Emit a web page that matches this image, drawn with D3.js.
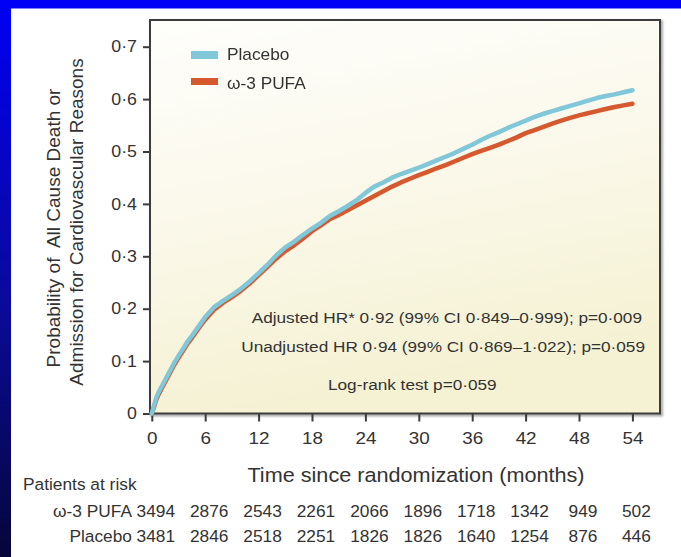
<!DOCTYPE html>
<html>
<head>
<meta charset="utf-8">
<script src="https://cdn.jsdelivr.net/npm/d3@7"></script>
<style>
  html, body { margin: 0; padding: 0; background: #fff; }
  svg { display: block; }
  text { font-family: "Liberation Sans", Arial, Helvetica, sans-serif; fill: #333; }
</style>
</head>
<body>
<svg id="chart" width="681" height="557"></svg>
<script>
// Kaplan–Meier cumulative event probability by month since randomization
const months = [0, 0.25, 0.5, 0.75, 1, 1.5, 2, 2.5, 3, 3.5, 4, 4.5, 5, 5.5, 6,
  7, 8, 9, 10, 11, 12, 13, 14, 15, 16, 17, 18, 19, 20, 21, 22, 23, 24,
  25, 26, 27, 28, 29, 30, 31, 32, 33, 34, 35, 36, 37, 38, 39, 40, 41, 42,
  43, 44, 45, 46, 47, 48, 49, 50, 51, 52, 53, 54];

const placebo = [0, 0.015, 0.030, 0.040, 0.048, 0.064, 0.080, 0.096, 0.110, 0.123, 0.137, 0.148, 0.160, 0.172, 0.184,
  0.203, 0.215, 0.226, 0.238, 0.252, 0.268, 0.284, 0.302, 0.317, 0.328, 0.341, 0.353, 0.364, 0.377, 0.386, 0.396, 0.407, 0.421,
  0.433, 0.441, 0.450, 0.457, 0.463, 0.469, 0.476, 0.483, 0.490, 0.497, 0.505, 0.513, 0.522, 0.530, 0.537, 0.545, 0.552, 0.559,
  0.566, 0.572, 0.577, 0.582, 0.587, 0.592, 0.597, 0.602, 0.606, 0.609, 0.613, 0.617];

const pufa = [0, 0.012, 0.026, 0.036, 0.044, 0.060, 0.076, 0.092, 0.106, 0.119, 0.133, 0.144, 0.156, 0.168, 0.179,
  0.198, 0.211, 0.222, 0.234, 0.248, 0.264, 0.280, 0.296, 0.310, 0.321, 0.334, 0.348, 0.359, 0.371, 0.379, 0.388, 0.397, 0.406,
  0.415, 0.424, 0.433, 0.441, 0.448, 0.455, 0.461, 0.468, 0.474, 0.481, 0.488, 0.495, 0.501, 0.507, 0.513, 0.520, 0.527, 0.535,
  0.541, 0.547, 0.553, 0.559, 0.564, 0.569, 0.573, 0.577, 0.581, 0.585, 0.588, 0.591];

const xTicks = [0, 6, 12, 18, 24, 30, 36, 42, 48, 54];
const yTicks = [0, 0.1, 0.2, 0.3, 0.4, 0.5, 0.6, 0.7];

const seriesNames = ["Placebo", "ω-3 PUFA"];
const riskPufa = [3494, 2876, 2543, 2261, 2066, 1896, 1718, 1342, 949, 502];
const riskPlacebo = [3481, 2846, 2518, 2251, 1826, 1826, 1640, 1254, 876, 446];

const statLines = [
  "Adjusted HR* 0·92 (99% CI 0·849–0·999); p=0·009",
  "Unadjusted HR 0·94 (99% CI 0·869–1·022); p=0·059",
  "Log-rank test p=0·059"
];

const colBlue = "#80c7d9";
const colRed = "#d6582d";

// the slide's lettering is set slightly wide
const WIDE = 1.11;
function widen(sel, k = WIDE) {
  sel.each(function () {
    const t = d3.select(this);
    const tx = +t.attr("x") || 0, ty = +t.attr("y") || 0;
    t.attr("x", 0).attr("y", 0).attr("transform", `translate(${tx},${ty}) scale(${k},1)`);
  });
}

const svg = d3.select("#chart");
const W = 681, H = 557;
const plot = { left: 150, right: 660, top: 20, bottom: 413.5 };

const defs = svg.append("defs");
const side = defs.append("linearGradient").attr("id", "side").attr("x1", 0).attr("y1", 0).attr("x2", 0).attr("y2", 1);
side.append("stop").attr("offset", "0%").attr("stop-color", "#0000f4");
side.append("stop").attr("offset", "55%").attr("stop-color", "#0a0a9a");
side.append("stop").attr("offset", "100%").attr("stop-color", "#06063a");

const panel = defs.append("linearGradient").attr("id", "panel").attr("x1", 0).attr("y1", 0).attr("x2", 0.25).attr("y2", 1);
panel.append("stop").attr("offset", "0%").attr("stop-color", "#fefefc");
panel.append("stop").attr("offset", "45%").attr("stop-color", "#fbf9ec");
panel.append("stop").attr("offset", "100%").attr("stop-color", "#f5f1d3");

const soft = defs.append("filter").attr("id", "soft").attr("x", "-5%").attr("y", "-5%").attr("width", "110%").attr("height", "110%");
soft.append("feGaussianBlur").attr("stdDeviation", 0.5);

const shadow = defs.append("filter").attr("id", "shadow").attr("x", "-5%").attr("y", "-5%").attr("width", "110%").attr("height", "110%");
shadow.append("feGaussianBlur").attr("stdDeviation", 1.2);

// slide background
svg.append("rect").attr("width", W).attr("height", H).attr("fill", "#ffffff");
svg.append("rect").attr("x", 0).attr("y", 0).attr("width", 11).attr("height", H).attr("fill", "url(#side)");
svg.append("rect").attr("x", 0).attr("y", 0).attr("width", W).attr("height", 8.5).attr("fill", "#0000f6");

// scales
const x = d3.scaleLinear().domain([-0.2, 57.1]).range([plot.left, plot.right]);
const y = d3.scaleLinear().domain([0, 0.75]).range([plot.bottom, plot.top + 0.5]);

// plot panel with frame
svg.append("rect")
  .attr("x", plot.left + 1.5).attr("y", plot.top + 1.5)
  .attr("width", plot.right - plot.left).attr("height", plot.bottom - plot.top)
  .attr("fill", "none").attr("stroke", "#9a9a9a").attr("stroke-width", 2.5)
  .attr("filter", "url(#shadow)");
svg.append("rect")
  .attr("x", plot.left).attr("y", plot.top)
  .attr("width", plot.right - plot.left).attr("height", plot.bottom - plot.top)
  .attr("fill", "url(#panel)").attr("stroke", "#3c3c3c").attr("stroke-width", 2);

const fmt = d => d === 0 ? "0" : d3.format(".1f")(d).replace(".", "·");

// y axis
const gy = svg.append("g").attr("transform", `translate(${plot.left},0)`)
  .call(d3.axisLeft(y).tickValues(yTicks).tickFormat(fmt).tickSize(7).tickPadding(6));
gy.select(".domain").remove();
gy.selectAll(".tick line").attr("stroke", "#3c3c3c").attr("stroke-width", 2);
gy.selectAll(".tick text").attr("font-size", 16).attr("fill", "#333")
  .attr("font-family", "'Liberation Sans', Arial, sans-serif").call(widen);

// x axis
const gx = svg.append("g").attr("transform", `translate(0,${plot.bottom})`)
  .call(d3.axisBottom(x).tickValues(xTicks).tickSize(8).tickPadding(10));
gx.select(".domain").remove();
gx.selectAll(".tick line").attr("stroke", "#3c3c3c").attr("stroke-width", 2);
gx.selectAll(".tick text").attr("font-size", 17).attr("fill", "#333")
  .attr("font-family", "'Liberation Sans', Arial, sans-serif").call(widen);

// survival curves
const line = d3.line().x((d, i) => x(months[i])).y(d => y(d)).curve(d3.curveLinear);
const curves = svg.append("g").attr("filter", "url(#soft)");
curves.append("path").datum(pufa).attr("d", line)
  .attr("fill", "none").attr("stroke", colRed).attr("stroke-width", 4.5)
  .attr("stroke-linejoin", "round").attr("stroke-linecap", "round");
curves.append("path").datum(placebo).attr("d", line)
  .attr("fill", "none").attr("stroke", colBlue).attr("stroke-width", 4.5)
  .attr("stroke-linejoin", "round").attr("stroke-linecap", "round");

// legend
const legend = svg.append("g").attr("filter", "url(#soft)");
const legendRows = [
  { name: seriesNames[0], color: colBlue, w: 8, sy: 55, ty: 60 },
  { name: seriesNames[1], color: colRed, w: 7, sy: 81.5, ty: 88.5 }
];
legendRows.forEach(r => {
  legend.append("line").attr("x1", 191).attr("x2", 218).attr("y1", r.sy).attr("y2", r.sy)
    .attr("stroke", r.color).attr("stroke-width", r.w);
  legend.append("text").attr("x", 227).attr("y", r.ty).attr("font-size", 16).text(r.name).call(widen, 1.08);
});

// statistics
const stats = svg.append("g").attr("font-size", 15.5);
stats.append("text").attr("x", 642).attr("y", 323).attr("text-anchor", "end").text(statLines[0]);
stats.append("text").attr("x", 645).attr("y", 351.5).attr("text-anchor", "end").text(statLines[1]);
stats.append("text").attr("x", 328).attr("y", 390).text(statLines[2]);
stats.selectAll("text").call(widen);

// axis titles
svg.append("text").attr("x", 416).attr("y", 482).attr("text-anchor", "middle")
  .attr("font-size", 19.5).text("Time since randomization (months)").call(widen);

const yTitle = svg.append("g").attr("font-size", 19).attr("text-anchor", "middle");
yTitle.append("text").attr("transform", "translate(60,228) rotate(-90)")
  .style("white-space", "pre").text("Probability of  All Cause Death or");
yTitle.append("text").attr("transform", "translate(83,222) rotate(-90)")
  .text("Admission for Cardiovascular Reasons");

// numbers at risk
const risk = svg.append("g").attr("font-size", 16.5);
risk.append("text").attr("x", 23).attr("y", 490).text("Patients at risk");
const riskRows = [
  { label: seriesNames[1], values: riskPufa, y: 517 },
  { label: seriesNames[0], values: riskPlacebo, y: 542 }
];
riskRows.forEach(r => {
  risk.append("text").attr("x", 132).attr("y", r.y).attr("text-anchor", "end").text(r.label);
  risk.selectAll(null).data(r.values).join("text")
    .attr("x", (d, i) => x(xTicks[i]) + 4)
    .attr("y", r.y)
    .attr("text-anchor", "middle")
    .text(d => d);
});
risk.selectAll("text").call(widen, 1.05);
</script>
</body>
</html>
